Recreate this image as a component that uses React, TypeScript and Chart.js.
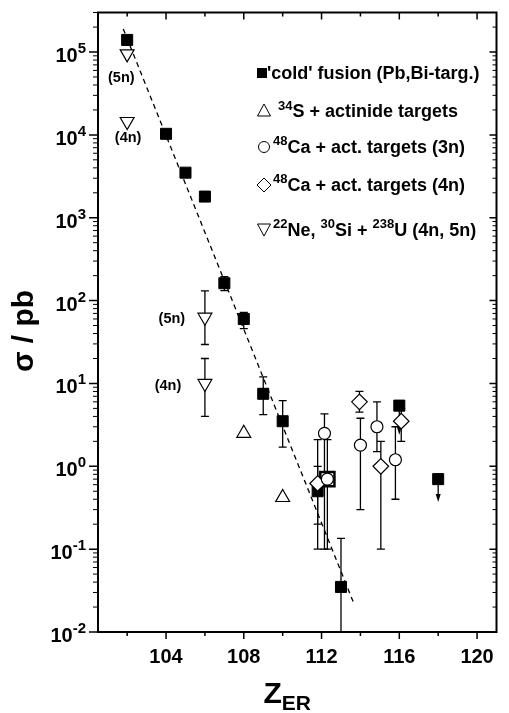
import React, { useEffect, useRef } from 'react';
import { Chart, registerables } from 'chart.js';
Chart.register(...registerables);

// ---- data ----
const coldZ = [102, 104, 105, 106, 107, 108, 109, 110, 111.8, 113, 116, 118];
const coldSigma = [1.4e5, 1.03e4, 3.5e3, 1.8e3, 162, 60, 7.5, 3.5, 0.5, 0.035, 5.4, 0.7];
const coldErrLow = [null, null, null, null, 132, 46, 4.2, 1.7, 0.2, 0.004, null, null];
const coldErrHigh = [null, null, null, null, 195, 72, 12, 6.2, 1.0, 0.135, null, null];
const coldLimitTo = [null, null, null, null, null, null, null, null, null, null, 2.4, 0.37];

const boxZ = [112.3];
const boxSigma = [0.7];

const s34Z = [108, 110];
const s34Sigma = [2.5, 0.42];

const ca3Z = [112.15, 112.3, 114, 114.85, 115.8];
const ca3Sigma = [2.5, 0.7, 1.8, 3.0, 1.2];
const ca3ErrLow = [0.1, 0.1, 0.3, 1.5, 0.4];
const ca3ErrHigh = [4.3, 2.1, 3.8, 6.0, 3.0];

const ca4Z = [111.8, 113.95, 115.05, 116.1];
const ca4Sigma = [0.62, 6.0, 1.0, 3.5];
const ca4ErrLow = [0.1, 4.5, 0.1, 2.0];
const ca4ErrHigh = [2.1, 8.0, 2.0, 5.0];

const neZ = [102, 102, 106, 106];
const neSigma = [9.5e4, 1.45e4, 63, 10];
const neErrLow = [null, null, 29.5, 4];
const neErrHigh = [null, null, 131, 20];

const fitZ = [101.8, 113.7];
const fitSigma = [1.9e5, 0.021];

const labelZ = [101.7, 102.05, 104.3, 104.1];
const labelSigma = [5.0e4, 9.3e3, 62, 9.6];
const labelText = ['(5n)', '(4n)', '(5n)', '(4n)'];

const xMajorTicks = [104, 108, 112, 116, 120];
const xMinorTicks = [102, 106, 110, 114, 118];
const yExponents = [-2, -1, 0, 1, 2, 3, 4, 5];

const legendLabels = [
  [{ t: "'cold' fusion (Pb,Bi-targ.)" }],
  [{ t: '34', s: 'sup' }, { t: 'S + actinide targets' }],
  [{ t: '48', s: 'sup' }, { t: 'Ca + act. targets (3n)' }],
  [{ t: '48', s: 'sup' }, { t: 'Ca + act. targets (4n)' }],
  [{ t: '22', s: 'sup' }, { t: 'Ne, ' }, { t: '30', s: 'sup' }, { t: 'Si + ' }, { t: '238', s: 'sup' }, { t: 'U (4n, 5n)' }],
];

const FONT = '"Liberation Sans", Arial, Helvetica, sans-serif';

type Seg = { t: string; s?: string };

function richWidth(ctx: CanvasRenderingContext2D, segs: Seg[], size: number, sSize: number) {
  let w = 0;
  for (const sg of segs) {
    ctx.font = `bold ${sg.s ? sSize : size}px ${FONT}`;
    w += ctx.measureText(sg.t).width;
  }
  return w;
}

function drawRich(
  ctx: CanvasRenderingContext2D, segs: Seg[], x: number, baseline: number,
  size: number, sSize: number, rise: number, drop: number, align: string
) {
  const w = richWidth(ctx, segs, size, sSize);
  let cx = align === 'right' ? x - w : align === 'center' ? x - w / 2 : x;
  ctx.textAlign = 'left';
  ctx.textBaseline = 'alphabetic';
  for (const sg of segs) {
    ctx.font = `bold ${sg.s ? sSize : size}px ${FONT}`;
    const by = sg.s === 'sup' ? baseline - rise : sg.s === 'sub' ? baseline + drop : baseline;
    ctx.fillText(sg.t, cx, by);
    cx += ctx.measureText(sg.t).width;
  }
}

function pts(xs: number[], ys: number[]) {
  return xs.map((v, i) => ({ x: v, y: ys[i] }));
}

const errorSets = [
  { z: coldZ, s: coldSigma, lo: coldErrLow, hi: coldErrHigh },
  { z: ca3Z, s: ca3Sigma, lo: ca3ErrLow, hi: ca3ErrHigh },
  { z: ca4Z, s: ca4Sigma, lo: ca4ErrLow, hi: ca4ErrHigh },
  { z: neZ, s: neSigma, lo: neErrLow, hi: neErrHigh },
];

const decorPlugin = {
  id: 'decor',
  beforeDatasetsDraw(chart: any) {
    const { ctx, chartArea, scales } = chart;
    const { x, y } = scales;
    ctx.save();
    ctx.beginPath();
    ctx.rect(chartArea.left, chartArea.top, chartArea.right - chartArea.left, chartArea.bottom - chartArea.top);
    ctx.clip();
    ctx.strokeStyle = '#000';
    ctx.lineWidth = 1.3;
    for (const set of errorSets) {
      set.z.forEach((z, i) => {
        const lo = set.lo[i];
        const hi = set.hi[i];
        if (lo == null || hi == null) return;
        const px = x.getPixelForValue(z);
        const pl = y.getPixelForValue(lo);
        const ph = y.getPixelForValue(hi);
        ctx.beginPath();
        ctx.moveTo(px, pl);
        ctx.lineTo(px, ph);
        ctx.moveTo(px - 4, pl);
        ctx.lineTo(px + 4, pl);
        ctx.moveTo(px - 4, ph);
        ctx.lineTo(px + 4, ph);
        ctx.stroke();
      });
    }
    // upper-limit arrows
    coldZ.forEach((z, i) => {
      const to = coldLimitTo[i];
      if (to == null) return;
      const px = x.getPixelForValue(z);
      const p0 = y.getPixelForValue(coldSigma[i]);
      const p1 = y.getPixelForValue(to);
      ctx.beginPath();
      ctx.moveTo(px, p0);
      ctx.lineTo(px, p1 - 6);
      ctx.stroke();
      ctx.beginPath();
      ctx.moveTo(px - 2.5, p1 - 8);
      ctx.lineTo(px + 2.5, p1 - 8);
      ctx.lineTo(px, p1);
      ctx.closePath();
      ctx.fillStyle = '#000';
      ctx.fill();
    });
    ctx.restore();
  },
  afterDatasetsDraw(chart: any) {
    const { ctx, chartArea, scales } = chart;
    const { x, y } = scales;
    const { left, right, top, bottom } = chartArea;
    ctx.save();
    ctx.strokeStyle = '#000';
    ctx.fillStyle = '#000';
    // frame
    ctx.lineWidth = 2;
    ctx.strokeRect(left, top, right - left, bottom - top);
    // x ticks
    ctx.lineWidth = 1.5;
    const xt = [...xMajorTicks.map((v) => [v, 1]), ...xMinorTicks.map((v) => [v, 0])];
    for (const [v, major] of xt) {
      const px = x.getPixelForValue(v);
      ctx.beginPath();
      ctx.moveTo(px, bottom);
      ctx.lineTo(px, bottom + (major ? 7 : 4));
      ctx.moveTo(px, top);
      ctx.lineTo(px, top + (major ? 7 : 4));
      ctx.stroke();
    }
    // y ticks
    for (const e of yExponents) {
      for (let m = 1; m <= 9; m++) {
        const v = m * Math.pow(10, e);
        if (v > y.max * 1.0001 || v < y.min * 0.9999) continue;
        const py = y.getPixelForValue(v);
        const len = m === 1 ? 9 : 5;
        ctx.lineWidth = m === 1 ? 1.5 : 1;
        ctx.beginPath();
        ctx.moveTo(left - len, py);
        ctx.lineTo(left, py);
        ctx.moveTo(right - (m === 1 ? 7 : 4), py);
        ctx.lineTo(right, py);
        ctx.stroke();
      }
    }
    // x tick labels
    for (const v of xMajorTicks) {
      const px = x.getPixelForValue(v);
      drawRich(ctx, [{ t: String(v) }], px, bottom + 31, 20, 14, 0, 0, 'center');
    }
    // y tick labels
    for (const e of yExponents) {
      const py = y.getPixelForValue(Math.pow(10, e));
      drawRich(ctx, [{ t: '10' }, { t: String(e), s: 'sup' }], left - 12, py + 10, 20, 15, 9, 0, 'right');
    }
    // axis titles
    drawRich(ctx, [{ t: 'Z' }, { t: 'ER', s: 'sub' }], (left + right) / 2 - 10, 703, 30, 21, 0, 7, 'center');
    ctx.save();
    ctx.translate(33, 331);
    ctx.rotate(-Math.PI / 2);
    drawRich(ctx, [{ t: 'σ / pb' }], 0, 0, 30, 20, 0, 0, 'center');
    ctx.restore();
    // annotations
    labelZ.forEach((z, i) => {
      const px = x.getPixelForValue(z);
      const py = y.getPixelForValue(labelSigma[i]);
      drawRich(ctx, [{ t: labelText[i] }], px, py + 5, 14.5, 10, 0, 0, 'center');
    });
    // legend
    const rowsY = [73, 111, 147, 185, 230];
    const baseOff = [5.5, 6, 5.5, 5.5, 5.5];
    const textX = [267, 278, 273, 273, 273];
    ctx.lineWidth = 1;
    rowsY.forEach((ry, i) => {
      const mx = i === 0 ? 262 : 264;
      ctx.beginPath();
      if (i === 0) {
        ctx.fillRect(mx - 5, ry - 5, 10, 10);
      } else if (i === 1) {
        ctx.moveTo(mx, ry - 7);
        ctx.lineTo(mx + 6.5, ry + 5);
        ctx.lineTo(mx - 6.5, ry + 5);
        ctx.closePath();
        ctx.stroke();
      } else if (i === 2) {
        ctx.arc(mx, ry, 5.5, 0, Math.PI * 2);
        ctx.stroke();
      } else if (i === 3) {
        ctx.moveTo(mx - 7, ry);
        ctx.lineTo(mx, ry - 7);
        ctx.lineTo(mx + 7, ry);
        ctx.lineTo(mx, ry + 7);
        ctx.closePath();
        ctx.stroke();
      } else {
        ctx.moveTo(mx - 6.5, ry - 6);
        ctx.lineTo(mx + 6.5, ry - 6);
        ctx.lineTo(mx, ry + 6);
        ctx.closePath();
        ctx.stroke();
      }
      drawRich(ctx, legendLabels[i], textX[i], ry + baseOff[i], 18, 13, 7.5, 0, 'left');
    });
    ctx.restore();
  },
};

export default function App() {
  const ref = useRef<HTMLCanvasElement>(null);
  useEffect(() => {
    const canvas = ref.current;
    if (!canvas) return;
    const chart = new Chart(canvas, {
      type: 'scatter',
      data: {
        datasets: [
          {
            label: 'fit',
            type: 'line',
            data: pts(fitZ, fitSigma),
            borderColor: '#000',
            borderWidth: 1.3,
            borderDash: [5, 4],
            pointRadius: 0,
            showLine: true,
            fill: false,
            order: 10,
          } as any,
          {
            label: "'cold' fusion",
            data: pts(coldZ, coldSigma),
            pointStyle: 'rect',
            pointRadius: 7.8,
            backgroundColor: '#000',
            borderColor: '#000',
            borderWidth: 1,
            order: 5,
          },
          {
            label: 'box',
            data: pts(boxZ, boxSigma),
            pointStyle: 'rect',
            pointRadius: 10,
            backgroundColor: '#fff',
            borderColor: '#000',
            borderWidth: 2.5,
            order: 4,
          },
          {
            label: '34S',
            data: pts(s34Z, s34Sigma),
            pointStyle: 'triangle',
            pointRadius: 8,
            backgroundColor: '#fff',
            borderColor: '#000',
            borderWidth: 1.2,
            order: 3,
          },
          {
            label: '48Ca 4n',
            data: pts(ca4Z, ca4Sigma),
            pointStyle: 'rectRot',
            pointRadius: 7.8,
            backgroundColor: '#fff',
            borderColor: '#000',
            borderWidth: 1.2,
            order: 3,
          },
          {
            label: '48Ca 3n',
            data: pts(ca3Z, ca3Sigma),
            pointStyle: 'circle',
            pointRadius: 6,
            backgroundColor: '#fff',
            borderColor: '#000',
            borderWidth: 1.2,
            order: 2,
          },
          {
            label: '22Ne 30Si',
            data: pts(neZ, neSigma),
            pointStyle: 'triangle',
            rotation: 180,
            pointRadius: 8,
            backgroundColor: '#fff',
            borderColor: '#000',
            borderWidth: 1.2,
            order: 2,
          } as any,
        ],
      },
      options: {
        responsive: false,
        animation: false,
        events: [],
        layout: { padding: { left: 98, right: 9, top: 10, bottom: 81 } },
        scales: {
          x: { type: 'linear', min: 100.5, max: 121, display: false },
          y: { type: 'logarithmic', min: 0.01, max: 3e5, display: false },
        },
        plugins: { legend: { display: false }, tooltip: { enabled: false } },
      },
      plugins: [decorPlugin],
    });
    return () => chart.destroy();
  }, []);
  return (
    <div style={{ position: 'fixed', left: 0, top: 0, width: 509, height: 713, background: '#fff' }}>
      <canvas ref={ref} width={509} height={713} />
    </div>
  );
}
